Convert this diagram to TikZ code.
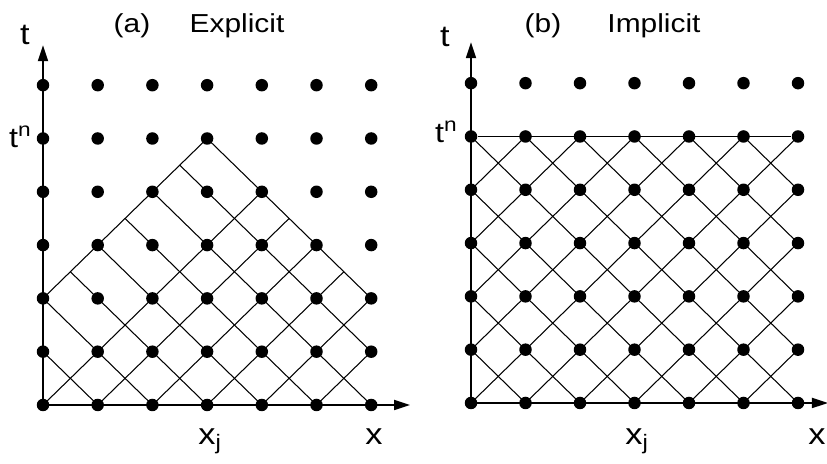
\documentclass[tikz,border=0pt]{standalone}
\usepackage{fontspec}
\setmainfont[FakeStretch=1.15]{Liberation Sans}
\usepackage{tikz}
\usetikzlibrary{arrows.meta,positioning,calc}
\tikzset{
	gdot/.style={circle, fill=black, inner sep=0pt, minimum size=0.25cm},
	glin/.style={line width=0.6pt},
	gaxis/.style={-{Triangle[length=0.32cm,width=0.2cm]}, line width=1pt},
	glbl/.style={inner sep=0pt, font=\fontsize{17}{20}\selectfont},
	gttl/.style={inner sep=0pt, anchor=base, font=\fontsize{14.8}{18}\selectfont}
}

\begin{document}
\begin{tikzpicture}[x=1cm, y=1cm]
	\useasboundingbox (0,0) rectangle (16.54,9.28);
	% (a) explicit: cone below t^n
	\begin{scope}[shift={(0.86,1.18)}, x=1.094cm, y=1.066cm]
		\foreach \xa/\ya/\xb/\yb in {0/1/1/0, 0/2/2/0, 0.5/2.5/3/0, 1/3/4/0, 1.5/3.5/5/0, 2/4/6/0, 2.5/4.5/6/1, 3/5/6/2,
			0/2/3/5, 0/0/4/4, 1/0/4.5/3.5, 2/0/5/3, 3/0/5.5/2.5, 4/0/6/2, 5/0/6/1}
			\draw[glin] (\xa,\ya) -- (\xb,\yb);
		\foreach \i in {0,...,6}
			\foreach \j in {0,...,6}
				\node[gdot] (a\i\j) at (\i,\j) {};
		\coordinate (xtipa) at (6.71,0);
		\coordinate (ttipa) at (0,6.75);
		\draw[gaxis] (a00.center) -- (xtipa);
		\draw[gaxis] (a00.center) -- (ttipa);
	\end{scope}
	% (b) implicit: whole strip up to t^n
	\begin{scope}[shift={(9.42,1.22)}, x=1.09cm, y=1.066cm]
		\begin{scope}
			\clip (0,0) rectangle (6,5);
			\foreach \c in {1,...,10}
				\draw[glin] (\c,0) -- ++(-6,6);
			\foreach \d in {-4,...,5}
				\draw[glin] (\d,0) -- ++(6,6);
		\end{scope}
		\foreach \i in {0,...,6}
			\foreach \j in {0,...,6}
				\node[gdot] (b\i\j) at (\i,\j) {};
		\draw[glin] (b05) -- (b65);
		\coordinate (xtipb) at (6.55,0);
		\coordinate (ttipb) at (0,6.77);
		\draw[gaxis] (b00.center) -- (xtipb);
		\draw[gaxis] (b00.center) -- (ttipb);
	\end{scope}
	% labels
	\node[gttl] (capa) at (2.64,8.62) {(a)};
	\node[gttl] (namea) at (4.74,8.62) {Explicit};
	\node[glbl, anchor=base] (ta) at (0.5,8.38) {t};
	\node[glbl, anchor=base east, font=\fontsize{16}{18}\selectfont] (tna) at (0.64,6.32) {t\textsuperscript{n}};
	\node[glbl, anchor=base west] (xja) at (3.96,0.38) {x\textsubscript{j}};
	\node[glbl, anchor=base west] (xa) at (7.3,0.38) {x};
	\node[gttl] (capb) at (10.86,8.62) {(b)};
	\node[gttl] (nameb) at (13.08,8.62) {Implicit};
	\node[glbl, anchor=base] (tb) at (8.9,8.35) {t};
	\node[glbl, anchor=base east, font=\fontsize{16}{18}\selectfont] (tnb) at (9.16,6.42) {t\textsuperscript{n}};
	\node[glbl, anchor=base west] (xjb) at (12.5,0.38) {x\textsubscript{j}};
	\node[glbl, anchor=base west] (xb) at (16.16,0.38) {x};
\end{tikzpicture}
\end{document}
